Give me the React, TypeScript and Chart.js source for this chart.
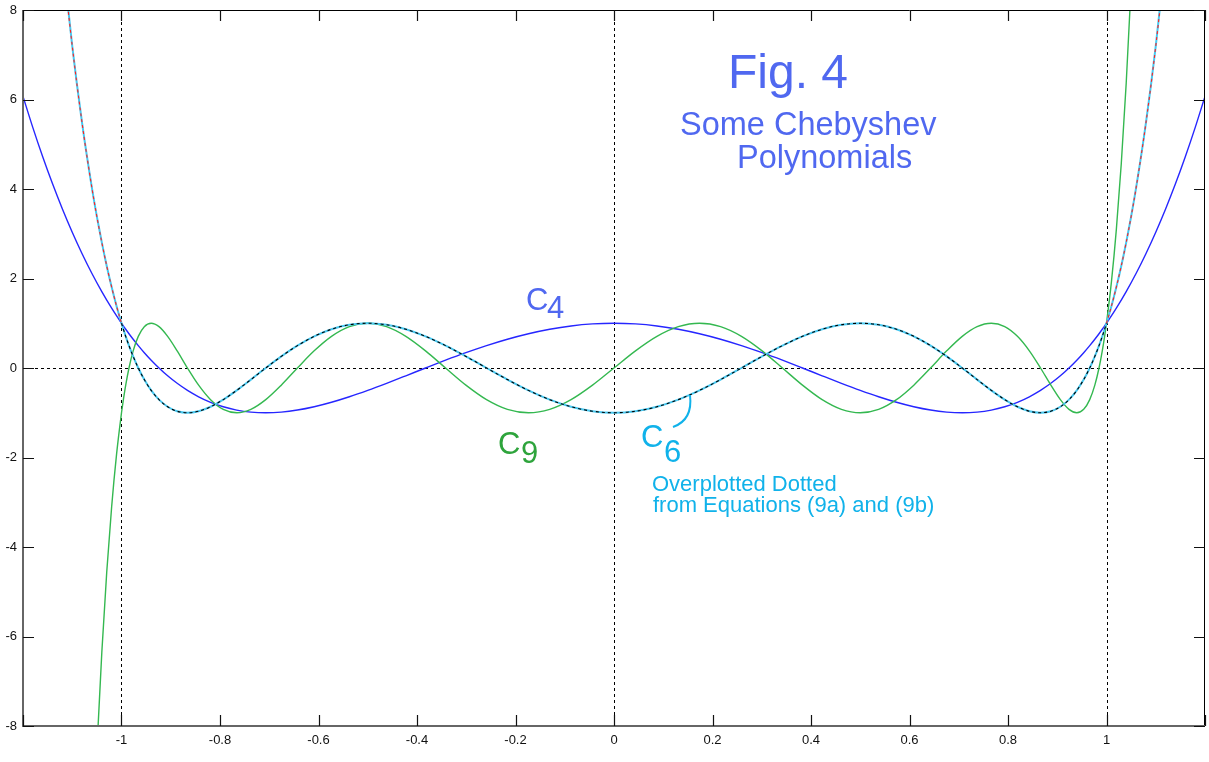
import React, { useEffect, useRef } from 'react';
import { Chart, registerables } from 'chart.js';

Chart.register(...registerables);

// ---------- axis ticks ----------
const X_TICKS = [-1.2, -1, -0.8, -0.6, -0.4, -0.2, 0, 0.2, 0.4, 0.6, 0.8, 1, 1.2];
const X_TICK_LABELS = ['', '-1', '-0.8', '-0.6', '-0.4', '-0.2', '0', '0.2', '0.4', '0.6', '0.8', '1', ''];
const Y_TICKS = [-8, -6, -4, -2, 0, 2, 4, 6, 8];
const Y_TICK_LABELS = ['-8', '-6', '-4', '-2', '0', '2', '4', '6', '8'];
const GUIDE_X = [-1, 0, 1];
const GUIDE_Y = [0];

// ---------- inner range  -1 <= x <= 1 ----------
const X_IN = [
  -1, -0.99905, -0.99619, -0.99144, -0.98481, -0.9763, -0.96593, -0.95372, -0.93969, -0.92388,
  -0.90631, -0.88701, -0.86603, -0.84339, -0.81915, -0.79335, -0.76604, -0.73728, -0.70711, -0.67559,
  -0.64279, -0.60876, -0.57358, -0.5373, -0.5, -0.46175, -0.42262, -0.38268, -0.34202, -0.30071,
  -0.25882, -0.21644, -0.17365, -0.13053, -0.08716, -0.04362, 0,
  0.04362, 0.08716, 0.13053, 0.17365, 0.21644, 0.25882, 0.30071, 0.34202, 0.38268, 0.42262,
  0.46175, 0.5, 0.5373, 0.57358, 0.60876, 0.64279, 0.67559, 0.70711, 0.73728, 0.76604,
  0.79335, 0.81915, 0.84339, 0.86603, 0.88701, 0.90631, 0.92388, 0.93969, 0.95372, 0.96593,
  0.9763, 0.98481, 0.99144, 0.99619, 0.99905, 1,
];

const C4_IN = [
  1, 0.985, 0.94, 0.866, 0.766, 0.643, 0.5, 0.342, 0.174, 0, -0.174, -0.342, -0.5, -0.643, -0.766, -0.866, -0.94, -0.985,
  -1, -0.985, -0.94, -0.866, -0.766, -0.643, -0.5, -0.342, -0.174, 0, 0.174, 0.342, 0.5, 0.643, 0.766, 0.866, 0.94, 0.985,
  1, 0.985, 0.94, 0.866, 0.766, 0.643, 0.5, 0.342, 0.174, 0, -0.174, -0.342, -0.5, -0.643, -0.766, -0.866, -0.94, -0.985,
  -1, -0.985, -0.94, -0.866, -0.766, -0.643, -0.5, -0.342, -0.174, 0, 0.174, 0.342, 0.5, 0.643, 0.766, 0.866, 0.94, 0.985,
  1,
];

const C6_IN = [
  1, 0.966, 0.866, 0.707, 0.5, 0.259, 0, -0.259, -0.5, -0.707, -0.866, -0.966,
  -1, -0.966, -0.866, -0.707, -0.5, -0.259, 0, 0.259, 0.5, 0.707, 0.866, 0.966,
  1, 0.966, 0.866, 0.707, 0.5, 0.259, 0, -0.259, -0.5, -0.707, -0.866, -0.966,
  -1, -0.966, -0.866, -0.707, -0.5, -0.259, 0, 0.259, 0.5, 0.707, 0.866, 0.966,
  1, 0.966, 0.866, 0.707, 0.5, 0.259, 0, -0.259, -0.5, -0.707, -0.866, -0.966,
  -1, -0.966, -0.866, -0.707, -0.5, -0.259, 0, 0.259, 0.5, 0.707, 0.866, 0.966,
  1,
];

const C9_IN = [
  -1, -0.924, -0.707, -0.383, 0, 0.383, 0.707, 0.924, 1, 0.924, 0.707, 0.383, 0, -0.383, -0.707, -0.924,
  -1, -0.924, -0.707, -0.383, 0, 0.383, 0.707, 0.924, 1, 0.924, 0.707, 0.383, 0, -0.383, -0.707, -0.924,
  -1, -0.924, -0.707, -0.383, 0, 0.383, 0.707, 0.924, 1, 0.924, 0.707, 0.383, 0, -0.383, -0.707, -0.924,
  -1, -0.924, -0.707, -0.383, 0, 0.383, 0.707, 0.924, 1, 0.924, 0.707, 0.383, 0, -0.383, -0.707, -0.924,
  -1, -0.924, -0.707, -0.383, 0, 0.383, 0.707, 0.924, 1,
];

// ---------- outer ranges |x| > 1 ----------
const C4_X_LEFT = [-1.2, -1.18, -1.16, -1.14, -1.12, -1.1, -1.08, -1.06, -1.04, -1.02];
const C4_LEFT = [6.069, 5.371, 4.72, 4.115, 3.553, 3.033, 2.553, 2.111, 1.706, 1.336];
const C4_X_RIGHT = [1.02, 1.04, 1.06, 1.08, 1.1, 1.12, 1.14, 1.16, 1.18, 1.2];
const C4_RIGHT = [1.336, 1.706, 2.111, 2.553, 3.033, 3.553, 4.115, 4.72, 5.371, 6.069];

const C6_X_LEFT = [-1.14, -1.12, -1.1, -1.08, -1.06, -1.05, -1.04, -1.03, -1.02, -1.01];
const C6_LEFT = [11.562, 9.212, 7.193, 5.472, 4.018, 3.384, 2.806, 2.281, 1.808, 1.381];
const C6_X_RIGHT = [1.01, 1.02, 1.03, 1.04, 1.05, 1.06, 1.08, 1.1, 1.12, 1.14];
const C6_RIGHT = [1.381, 1.808, 2.281, 2.806, 3.384, 4.018, 5.472, 7.193, 9.212, 11.562];

const C9_X_LEFT = [-1.06, -1.05, -1.04, -1.03, -1.02, -1.01];
const C9_LEFT = [-11.147, -8.539, -6.362, -4.564, -3.099, -1.924];
const C9_X_RIGHT = [1.01, 1.02, 1.03, 1.04, 1.05, 1.06];
const C9_RIGHT = [1.924, 3.099, 4.564, 6.362, 8.539, 11.147];

// ---------- styles ----------
const FONT = '"Liberation Sans", Arial, sans-serif';
const BLUE_TEXT = '#5068f0';
const CYAN_TEXT = '#10b2ea';
const GREEN_TEXT = '#2ea43c';

const TEXTS = [
  { t: 'Fig. 4', x: 728, y: 88, size: 48, color: BLUE_TEXT },
  { t: 'Some Chebyshev', x: 680, y: 135, size: 32.5, color: BLUE_TEXT },
  { t: 'Polynomials', x: 737, y: 168, size: 32.5, color: BLUE_TEXT },
  { t: 'C', x: 526, y: 310, size: 31, color: BLUE_TEXT },
  { t: '4', x: 547, y: 318, size: 31, color: BLUE_TEXT },
  { t: 'C', x: 498, y: 454, size: 31, color: GREEN_TEXT },
  { t: '9', x: 521, y: 463, size: 31, color: GREEN_TEXT },
  { t: 'C', x: 641, y: 447, size: 31, color: CYAN_TEXT },
  { t: '6', x: 664, y: 462, size: 31, color: CYAN_TEXT },
  { t: 'Overplotted Dotted', x: 652, y: 491, size: 22, color: CYAN_TEXT },
  { t: 'from Equations (9a) and (9b)', x: 653, y: 512, size: 22, color: CYAN_TEXT },
];

const pts = (xs: number[], ys: number[]) => xs.map((x, i) => ({ x, y: ys[i] }));

const decor = {
  id: 'decor',
  beforeDatasetsDraw(chart: any) {
    const { ctx, chartArea: a, scales } = chart;
    const sx = scales.x;
    const sy = scales.y;
    ctx.save();
    ctx.beginPath();
    ctx.rect(a.left, a.top, a.right - a.left, a.bottom - a.top);
    ctx.clip();
    ctx.strokeStyle = '#000';
    ctx.lineWidth = 1;
    ctx.setLineDash([3, 3]);
    GUIDE_X.forEach((v) => {
      const px = Math.round(sx.getPixelForValue(v)) + 0.5;
      ctx.beginPath();
      ctx.moveTo(px, a.top);
      ctx.lineTo(px, a.bottom);
      ctx.stroke();
    });
    GUIDE_Y.forEach((v) => {
      const py = Math.round(sy.getPixelForValue(v)) + 0.5;
      ctx.beginPath();
      ctx.moveTo(a.left, py);
      ctx.lineTo(a.right, py);
      ctx.stroke();
    });
    ctx.restore();
  },
  afterDraw(chart: any) {
    const { ctx, chartArea: a, scales } = chart;
    const sx = scales.x;
    const sy = scales.y;
    ctx.save();
    ctx.setLineDash([]);
    // frame
    ctx.strokeStyle = '#000';
    ctx.lineWidth = 1;
    ctx.beginPath();
    ctx.moveTo(a.left, a.top + 0.5);
    ctx.lineTo(a.right, a.top + 0.5);
    ctx.moveTo(a.right - 0.5, a.top);
    ctx.lineTo(a.right - 0.5, a.bottom);
    ctx.stroke();
    ctx.strokeStyle = '#666';
    ctx.lineWidth = 2;
    ctx.beginPath();
    ctx.moveTo(a.left, a.top);
    ctx.lineTo(a.left, a.bottom);
    ctx.lineTo(a.right, a.bottom);
    ctx.stroke();
    // inward ticks on all four sides
    ctx.strokeStyle = '#111';
    ctx.lineWidth = 1.2;
    const TL = 11;
    ctx.beginPath();
    X_TICKS.forEach((v) => {
      const px = Math.round(sx.getPixelForValue(v)) + 0.5;
      ctx.moveTo(px, a.bottom);
      ctx.lineTo(px, a.bottom - TL);
      ctx.moveTo(px, a.top);
      ctx.lineTo(px, a.top + TL);
    });
    Y_TICKS.forEach((v) => {
      const py = Math.round(sy.getPixelForValue(v)) + 0.5;
      ctx.moveTo(a.left, py);
      ctx.lineTo(a.left + TL, py);
      ctx.moveTo(a.right, py);
      ctx.lineTo(a.right - TL, py);
    });
    ctx.stroke();
    // annotations
    ctx.textBaseline = 'alphabetic';
    ctx.textAlign = 'left';
    TEXTS.forEach((d) => {
      ctx.font = `${d.size}px ${FONT}`;
      ctx.fillStyle = d.color;
      ctx.fillText(d.t, d.x, d.y);
    });
    // pointer from C6 label to its curve
    ctx.strokeStyle = CYAN_TEXT;
    ctx.lineWidth = 2;
    ctx.beginPath();
    ctx.moveTo(673, 427);
    ctx.quadraticCurveTo(693, 420, 690, 395);
    ctx.stroke();
    ctx.restore();
  },
};

export default function App() {
  const ref = useRef<HTMLCanvasElement | null>(null);

  useEffect(() => {
    if (!ref.current) return;
    const c4 = [...pts(C4_X_LEFT, C4_LEFT), ...pts(X_IN, C4_IN), ...pts(C4_X_RIGHT, C4_RIGHT)];
    const c6 = [...pts(C6_X_LEFT, C6_LEFT), ...pts(X_IN, C6_IN), ...pts(C6_X_RIGHT, C6_RIGHT)];
    const c6In = pts(X_IN, C6_IN);
    const c6Left = [...pts(C6_X_LEFT, C6_LEFT), { x: X_IN[0], y: C6_IN[0] }];
    const c6Right = [{ x: X_IN[X_IN.length - 1], y: C6_IN[C6_IN.length - 1] }, ...pts(C6_X_RIGHT, C6_RIGHT)];
    const c9 = [...pts(C9_X_LEFT, C9_LEFT), ...pts(X_IN, C9_IN), ...pts(C9_X_RIGHT, C9_RIGHT)];

    const base = {
      showLine: true,
      pointRadius: 0,
      pointHoverRadius: 0,
      fill: false,
      cubicInterpolationMode: 'monotone' as const,
    };

    const chart = new Chart(ref.current, {
      type: 'scatter',
      data: {
        datasets: [
          { ...base, label: 'C6 dotted (9a)', data: c6In, borderColor: '#000', borderWidth: 1.1, borderDash: [3, 3], order: 0 },
          { ...base, label: 'C6 dotted (9b) left', data: c6Left, borderColor: '#ff2020', borderWidth: 1.1, borderDash: [3, 3], order: 0 },
          { ...base, label: 'C6 dotted (9b) right', data: c6Right, borderColor: '#ff2020', borderWidth: 1.1, borderDash: [3, 3], order: 0 },
          { ...base, label: 'C6', data: c6, borderColor: '#48c8f0', borderWidth: 2, order: 1 },
          { ...base, label: 'C9', data: c9, borderColor: '#34b850', borderWidth: 1.4, order: 2 },
          { ...base, label: 'C4', data: c4, borderColor: '#2626ff', borderWidth: 1.4, order: 2 },
        ],
      },
      options: {
        animation: false,
        responsive: false,
        devicePixelRatio: 1,
        events: [],
        layout: { padding: { top: 10, right: 4, left: 0, bottom: 0 } },
        plugins: { legend: { display: false }, tooltip: { enabled: false } },
        scales: {
          x: {
            type: 'linear',
            min: -1.2,
            max: 1.2,
            grid: { display: false, drawTicks: false, tickLength: 0 },
            border: { display: false },
            afterBuildTicks: (s: any) => {
              s.ticks = X_TICKS.map((v) => ({ value: v }));
            },
            afterFit: (s: any) => {
              s.height = 36;
              s.paddingLeft = 0;
              s.paddingRight = 0;
              s.paddingTop = 0;
              s.paddingBottom = 0;
            },
            ticks: {
              autoSkip: false,
              maxRotation: 0,
              minRotation: 0,
              padding: 7,
              color: '#111',
              font: { family: FONT, size: 13 },
              callback: (_v: any, i: number) => X_TICK_LABELS[i],
            },
          },
          y: {
            type: 'linear',
            min: -8,
            max: 8,
            grid: { display: false, drawTicks: false, tickLength: 0 },
            border: { display: false },
            afterBuildTicks: (s: any) => {
              s.ticks = Y_TICKS.map((v) => ({ value: v }));
            },
            afterFit: (s: any) => {
              s.width = 23;
              s.paddingLeft = 0;
              s.paddingRight = 0;
              s.paddingTop = 0;
              s.paddingBottom = 0;
            },
            ticks: {
              autoSkip: false,
              padding: 6,
              color: '#111',
              font: { family: FONT, size: 13 },
              callback: (_v: any, i: number) => Y_TICK_LABELS[i],
            },
          },
        },
      },
      plugins: [decor],
    });
    return () => chart.destroy();
  }, []);

  return (
    <div style={{ position: 'absolute', left: 0, top: 0, width: 1209, height: 762, background: '#fff' }}>
      <canvas ref={ref} width={1209} height={762} style={{ display: 'block' }} />
    </div>
  );
}
